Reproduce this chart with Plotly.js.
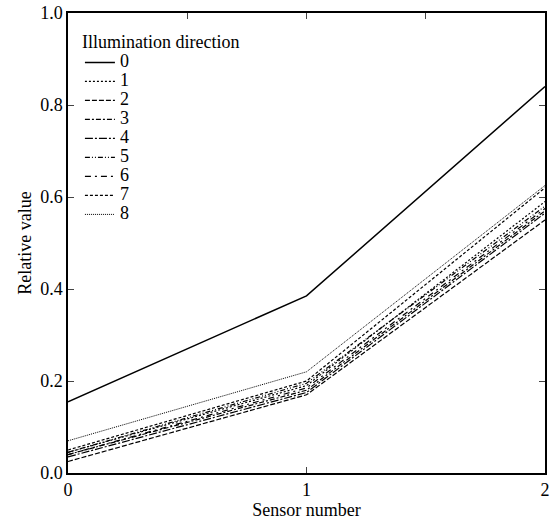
<!DOCTYPE html>
<html><head><meta charset="utf-8">
<script src="https://cdn.plot.ly/plotly-3.0.1.min.js"></script>
<style>html,body{margin:0;padding:0;background:#fff} #wrap{position:relative;width:553px;height:525px} #pre{position:absolute;left:2px;top:2px;z-index:0;font-family:'Liberation Serif';font-size:18px;color:#fff} #c{position:absolute;left:0;top:0;z-index:1;width:553px;height:525px}</style>
</head><body><div id="wrap"><div id="pre">Relative value Sensor number 0.123456789</div><div id="c"></div></div>
<script>
const sensors = [0, 1, 2];
const directions = ["0","1","2","3","4","5","6","7","8"];
const dir0 = [0.155, 0.385, 0.84];
const dir1 = [0.045, 0.19, 0.59];
const dir2 = [0.025, 0.17, 0.55];
const dir3 = [0.04, 0.18, 0.57];
const dir4 = [0.035, 0.175, 0.565];
const dir5 = [0.045, 0.195, 0.58];
const dir6 = [0.04, 0.185, 0.575];
const dir7 = [0.05, 0.2, 0.62];
const dir8 = [0.07, 0.22, 0.625];
const series = [dir0,dir1,dir2,dir3,dir4,dir5,dir6,dir7,dir8];
const dashes = ["solid","2px,2px","5px,2px","5px,2px,2px,2px","8px,2px,2px,2px","5px,2px,1px,2px,1px,2px","6px,4px,2px,4px","3px,2px","1px,1px"];
const widths = [1.5,1.2,1.2,1.2,1.2,1.2,1.2,1.2,1];

const traces = series.map((s,i)=>({
  x: sensors, y: s, type:'scatter', mode:'lines',
  name: '<span style="font-size:18px">' + directions[i] + '</span>',
  line:{color:'#000', width:widths[i], dash:dashes[i]}
}));
traces.push({x:[0,2], y:[0,0], xaxis:'x2', yaxis:'y', mode:'lines', showlegend:false, hoverinfo:'skip', line:{width:0, color:'rgba(0,0,0,0)'}});

const FAM = 'Liberation Serif';
const layout = {
  width:553, height:525,
  margin:{l:68, r:8, t:13, b:52},
  paper_bgcolor:'#fff', plot_bgcolor:'#fff',
  font: {family:FAM, size:18},
  showlegend:true,
  legend:{x:0.025, y:0.975, xanchor:'left', yanchor:'top', bgcolor:'rgba(0,0,0,0)',
    title:{text:'Illumination direction', font:{family:FAM, size:18, color:'#000'}}, font:{family:FAM, size:12, color:'#000'}, tracegroupgap:0, itemwidth:30},
  xaxis:{range:[0,2], tickvals:[0,1,2], ticktext:['0','1','2'], ticks:'inside', ticklen:6, tickwidth:1.2,
    showline:true, linewidth:1.5, linecolor:'#000', mirror:true, showgrid:false, zeroline:false,
    title:{text:'Sensor number', font:{family:FAM, size:18, color:'#000'}, standoff:2}, tickfont:{family:FAM, size:18, color:'#000'}},
  xaxis2:{range:[0,2], overlaying:'x', side:'top', anchor:'y', dtick:0.5, tick0:0, ticks:'inside', ticklen:6, tickwidth:1.2,
    showticklabels:false, showgrid:false, zeroline:false, showline:false},
  yaxis:{range:[0,1], dtick:0.2, tickformat:'.1f', ticks:'inside', ticklen:6, tickwidth:1.2,
    showline:true, linewidth:1.5, linecolor:'#000', mirror:'ticks', showgrid:false, zeroline:false,
    title:{text:'Relative value', font:{family:FAM, size:18, color:'#000'}, standoff:4}, tickfont:{family:FAM, size:18, color:'#000'}}
};
Plotly.newPlot('c', traces, layout, {displayModeBar:false});
</script></body></html>
